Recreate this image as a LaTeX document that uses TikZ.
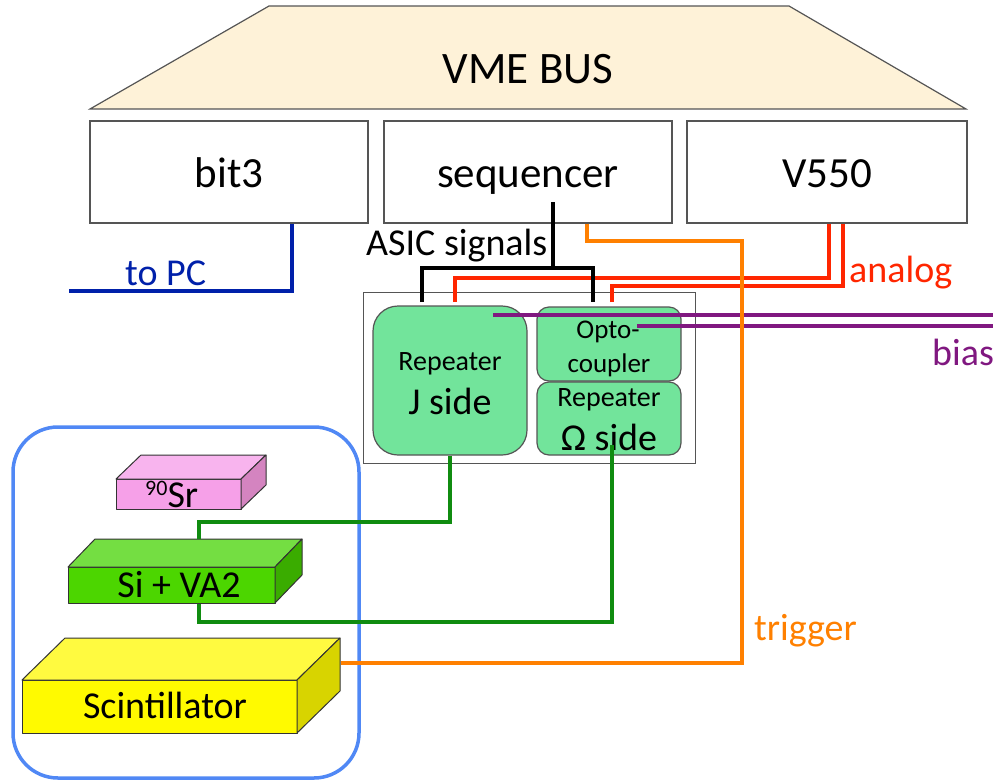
\documentclass[tikz,border=0pt]{standalone}
\usepackage{fontspec}
\setmainfont{Carlito}
\usetikzlibrary{calc}

\definecolor{busfill}{RGB}{254,242,216}
\definecolor{edgegray}{RGB}{85,85,85}
\definecolor{repfill}{RGB}{114,228,155}
\definecolor{boxblue}{RGB}{80,136,245}
\definecolor{pcblue}{RGB}{0,32,170}
\definecolor{sigred}{RGB}{255,38,0}
\definecolor{trigorange}{RGB}{255,128,0}
\definecolor{biaspurple}{RGB}{128,24,128}
\definecolor{wiregreen}{RGB}{16,140,16}
\definecolor{srfront}{RGB}{246,160,232}
\definecolor{srtop}{RGB}{248,180,238}
\definecolor{srside}{RGB}{212,132,192}
\definecolor{sifront}{RGB}{76,214,0}
\definecolor{sitop}{RGB}{116,222,66}
\definecolor{siside}{RGB}{58,172,0}
\definecolor{scfront}{RGB}{255,250,0}
\definecolor{sctop}{RGB}{255,250,64}
\definecolor{scside}{RGB}{216,212,0}

\newcommand{\fs}[1]{\fontsize{#1}{#1}\selectfont}

\tikzset{
  edge/.style={draw=edgegray, line width=1.2pt},
  module/.style={edge, fill=white, rectangle, inner sep=0pt,
    text height=30pt, text depth=0pt, font=\fs{43}},
  repbox/.style={edge, fill=repfill, rectangle, inner sep=0pt},
  wire/.style={line width=4pt, line join=miter},
  lbl/.style={anchor=base west, inner sep=0pt},
  lblc/.style={anchor=base, inner sep=0pt},
  slab/.style={draw=black!80, line width=1pt, line join=round},
}

\begin{document}
\begin{tikzpicture}[x=1pt, y=-1pt]
\useasboundingbox (0,0) rectangle (993,782);

% VME crate backplane
\draw[edge, fill=busfill] (269,6) -- (789,6) -- (966,109) -- (90,109) -- cycle;
\node[lblc, font=\fs{45}] (vme) at (528,83) {VME BUS};

% VME modules
\node[module, minimum width=278, minimum height=102] (bit3) at (229,172) {bit3};
\node[module, minimum width=288, minimum height=102] (seq) at (528,172) {sequencer};
\node[module, minimum width=280, minimum height=102] (v550) at (827,172) {V550};

% hybrid board with repeaters and optocoupler
\node[draw=edgegray, line width=1pt, fill=white, rectangle, inner sep=0pt,
      minimum width=332, minimum height=171] (board) at (529,377.5) {};
\node[repbox, rounded corners=25, minimum width=154, minimum height=149] (jrep) at (450,380.5) {};
\node[repbox, rounded corners=12, minimum width=144, minimum height=74] (opto) at (609,344) {};
\node[repbox, rounded corners=12, minimum width=144, minimum height=73] (orep) at (609,418.5) {};
\node[lblc, font=\fs{28}] (jrepA) at (450,370) {Repeater};
\node[lblc, font=\fs{38}] (jrepB) at (450,414) {J side};
\node[lblc, font=\fs{27}] (optoA) at (608,338) {Opto-};
\node[lblc, font=\fs{27}] (optoB) at (609,372) {coupler};
\node[lblc, font=\fs{28}] (orepA) at (609,406) {Repeater};
\node[lblc, font=\fs{38}] (orepB) at (609,450) {Ω side};

% test stand enclosure
\draw[draw=boxblue, line width=3.5pt, rounded corners=45] (13,427) rectangle (359,778);

% source
\filldraw[slab, fill=srfront] (116,479) rectangle (241,509);
\filldraw[slab, fill=srtop] (116,479) -- (141,455) -- (266,455) -- (241,479) -- cycle;
\filldraw[slab, fill=srside] (241,479) -- (266,455) -- (266,485) -- (241,509) -- cycle;
\node[lbl, font=\fs{38}] (sr) at (145,507) {\raisebox{12pt}{\fs{22}90}Sr};

% silicon detector
\filldraw[slab, fill=sifront] (68,567) rectangle (275,603);
\filldraw[slab, fill=sitop] (68,567) -- (95,539) -- (302,539) -- (275,567) -- cycle;
\filldraw[slab, fill=siside] (275,567) -- (302,539) -- (302,575) -- (275,603) -- cycle;
\node[lblc, font=\fs{38}] (si) at (179,597) {Si + VA2};

% scintillator
\filldraw[slab, fill=scfront] (22,680) rectangle (297,733);
\filldraw[slab, fill=sctop] (22,680) -- (65,638) -- (340,638) -- (297,680) -- cycle;
\filldraw[slab, fill=scside] (297,680) -- (340,638) -- (340,691) -- (297,733) -- cycle;
\coordinate (scout) at (341,663);
\node[lblc, font=\fs{38}] (sc) at (165,718) {Scintillator};

% bit3 link to the PC
\draw[wire, pcblue] (bit3.south -| 292,0) -- (292,291) -- (69,291);
\node[lbl, font=\fs{38}, text=pcblue] (topc) at (125,285) {to PC};

% analog readout into the V550
\draw[wire, sigred] (455,302) |- (829,278) -- (v550.south -| 829,0);
\draw[wire, sigred] (612,302) |- (843,286) -- (v550.south -| 843,0);
\node[lbl, font=\fs{38}, text=sigred] (analog) at (849,282) {analog};

% ASIC control signals from the sequencer
\draw[wire, black] (553,202) -- (553,268) coordinate (asic);
\draw[wire, black] (422,302) |- (asic) -| (593,302);
\node[lbl, font=\fs{38}] (asiclbl) at (366,255) {ASIC signals};

% detector bias
\draw[wire, biaspurple] (493,315) -- (993,315);
\draw[wire, biaspurple] (637,326) -- (993,326);
\node[lbl, font=\fs{38}, text=biaspurple] (bias) at (932,365) {bias};

% hybrid cables to the detector
\draw[wire, wiregreen] (jrep.south -| 450,0) -- (450,522) -- (199,522) -- (199,539);
\draw[wire, wiregreen] (199,604) -- (199,622) -- (612,622) -- (612,445);

% trigger from the scintillator
\draw[wire, trigorange] (seq.south -| 587,0) -- (587,241) -- (742,241) -- (742,663) -- (scout);
\node[lbl, font=\fs{38}, text=trigorange] (trig) at (754,640) {trigger};
\end{tikzpicture}
\end{document}
